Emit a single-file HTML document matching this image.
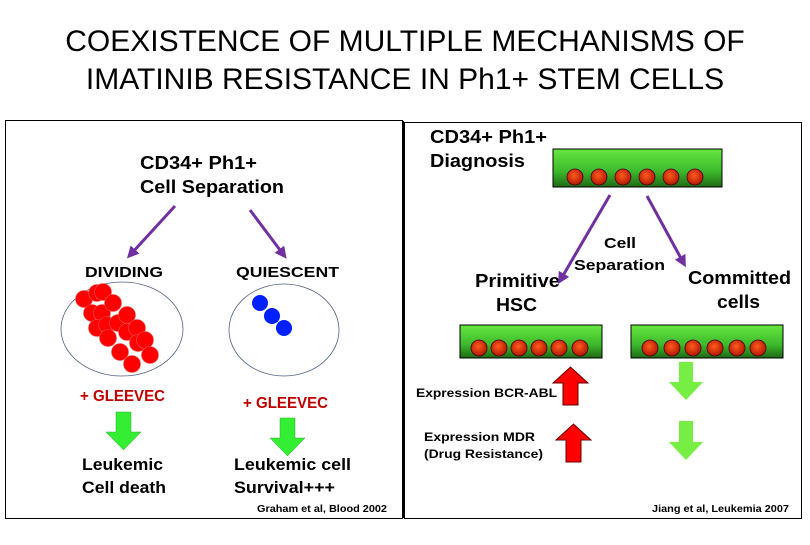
<!DOCTYPE html>
<html><head><meta charset="utf-8"><style>
body{margin:0;width:810px;height:540px;background:#fff;overflow:hidden}
svg text{font-family:"Liberation Sans",sans-serif;font-weight:bold}
</style></head><body>
<svg width="810" height="540" viewBox="0 0 810 540">
<defs>
<linearGradient id="g" x1="0" y1="0" x2="0" y2="1"><stop offset="0" stop-color="#66e840"/><stop offset="0.6" stop-color="#3cb82c"/><stop offset="1" stop-color="#1f6a14"/></linearGradient>
<radialGradient id="c" cx="0.45" cy="0.4" r="0.6"><stop offset="0" stop-color="#ff5a20"/><stop offset="1" stop-color="#b01800"/></radialGradient>
<marker id="ah" markerWidth="4" markerHeight="4" refX="2" refY="2" orient="auto"><path d="M0,0L4,2L0,4z" fill="#7030a0"/></marker>
</defs>
<text x="405" y="51" font-size="30" text-anchor="middle" style="font-weight:normal">COEXISTENCE OF MULTIPLE MECHANISMS OF</text>
<text x="405" y="89" font-size="30" text-anchor="middle" style="font-weight:normal">IMATINIB RESISTANCE IN Ph1+ STEM CELLS</text>
<rect x="5.5" y="120.5" width="397" height="398" fill="none" stroke="#000" stroke-width="1"/>
<rect x="404.5" y="122.5" width="397" height="396" fill="none" stroke="#000" stroke-width="1"/>
<line x1="403" y1="121" x2="403" y2="518" stroke="#000" stroke-width="2"/>
<g lengthAdjust="spacingAndGlyphs">
<text x="140" y="169" font-size="18" textLength="117" lengthAdjust="spacingAndGlyphs">CD34+ Ph1+</text>
<text x="140" y="193" font-size="18" textLength="144" lengthAdjust="spacingAndGlyphs">Cell Separation</text>
<text x="85" y="277" font-size="15" textLength="78" lengthAdjust="spacingAndGlyphs">DIVIDING</text>
<text x="236" y="277" font-size="15" textLength="103" lengthAdjust="spacingAndGlyphs">QUIESCENT</text>
<text x="80" y="401" font-size="16" fill="#c00000" textLength="85" lengthAdjust="spacingAndGlyphs">+ GLEEVEC</text>
<text x="243" y="408" font-size="16" fill="#c00000" textLength="85" lengthAdjust="spacingAndGlyphs">+ GLEEVEC</text>
<text x="82" y="470" font-size="17" textLength="81" lengthAdjust="spacingAndGlyphs">Leukemic</text>
<text x="82" y="493" font-size="17" textLength="84" lengthAdjust="spacingAndGlyphs">Cell death</text>
<text x="234" y="470" font-size="17" textLength="117" lengthAdjust="spacingAndGlyphs">Leukemic cell</text>
<text x="234" y="493" font-size="17" textLength="101" lengthAdjust="spacingAndGlyphs">Survival+++</text>
<text x="257" y="512" font-size="10" textLength="130" lengthAdjust="spacingAndGlyphs">Graham et al, Blood 2002</text>
<text x="430" y="143" font-size="18" textLength="117" lengthAdjust="spacingAndGlyphs">CD34+ Ph1+</text>
<text x="430" y="167" font-size="18" textLength="95" lengthAdjust="spacingAndGlyphs">Diagnosis</text>
<text x="604" y="248" font-size="15" textLength="32" lengthAdjust="spacingAndGlyphs">Cell</text>
<text x="574" y="270" font-size="15" textLength="91" lengthAdjust="spacingAndGlyphs">Separation</text>
<text x="475" y="287" font-size="18" textLength="85" lengthAdjust="spacingAndGlyphs">Primitive</text>
<text x="496" y="311" font-size="18" textLength="41" lengthAdjust="spacingAndGlyphs">HSC</text>
<text x="688" y="284" font-size="18" textLength="103" lengthAdjust="spacingAndGlyphs">Committed</text>
<text x="717" y="308" font-size="18" textLength="43" lengthAdjust="spacingAndGlyphs">cells</text>
<text x="416" y="397" font-size="12" textLength="141" lengthAdjust="spacingAndGlyphs">Expression BCR-ABL</text>
<text x="424" y="441" font-size="12" textLength="111" lengthAdjust="spacingAndGlyphs">Expression MDR</text>
<text x="424" y="458" font-size="12" textLength="119" lengthAdjust="spacingAndGlyphs">(Drug Resistance)</text>
<text x="652" y="512" font-size="10" textLength="137" lengthAdjust="spacingAndGlyphs">Jiang et al, Leukemia 2007</text>
</g>
<line x1="175" y1="206" x2="131" y2="254" stroke="#7030a0" stroke-width="3" marker-end="url(#ah)"/>
<line x1="250" y1="210" x2="283" y2="254" stroke="#7030a0" stroke-width="3" marker-end="url(#ah)"/>
<ellipse cx="122" cy="329" rx="61" ry="47" fill="none" stroke="#506080" stroke-width="0.8"/>
<ellipse cx="284" cy="330" rx="55" ry="46" fill="none" stroke="#506080" stroke-width="0.8"/>
<g fill="#f00" stroke="#e55" stroke-width="0.6">
<circle cx="84" cy="299" r="8.5"/><circle cx="97" cy="293" r="8.5"/><circle cx="103" cy="292" r="8.5"/>
<circle cx="92" cy="313" r="8.5"/><circle cx="102" cy="313" r="8.5"/><circle cx="113" cy="303" r="8.5"/>
<circle cx="97" cy="328" r="8.5"/><circle cx="107" cy="325" r="8.5"/><circle cx="118" cy="323" r="8.5"/><circle cx="127" cy="315" r="8.5"/>
<circle cx="108" cy="338" r="8.5"/><circle cx="127" cy="332" r="8.5"/><circle cx="137" cy="328" r="8.5"/>
<circle cx="120" cy="352" r="8.5"/><circle cx="138" cy="343" r="8.5"/><circle cx="145" cy="340" r="8.5"/>
<circle cx="132" cy="364" r="8.5"/><circle cx="150" cy="355" r="8.5"/>
</g>
<g fill="#0020ff"><circle cx="260" cy="303" r="8"/><circle cx="272" cy="316" r="8"/><circle cx="284" cy="328" r="8"/></g>
<path d="M116,412h15v20h10l-17.5,18l-17.5,-18h10z" fill="#33ee33" stroke="#3a3" stroke-width="0.5"/>
<path d="M280,418h15v20h10l-17.5,18l-17.5,-18h10z" fill="#33ee33" stroke="#3a3" stroke-width="0.5"/>
<rect x="553" y="149" width="169" height="38" fill="url(#g)" stroke="#000"/>
<g fill="url(#c)" stroke="#400" stroke-width="0.8">
<circle cx="575" cy="177" r="8"/><circle cx="599" cy="177" r="8"/><circle cx="623" cy="177" r="8"/><circle cx="647" cy="177" r="8"/><circle cx="671" cy="177" r="8"/><circle cx="695" cy="177" r="8"/>
</g>
<line x1="610" y1="195" x2="561" y2="279" stroke="#7030a0" stroke-width="3" marker-end="url(#ah)"/>
<line x1="647" y1="196" x2="683" y2="262" stroke="#7030a0" stroke-width="3" marker-end="url(#ah)"/>
<rect x="460" y="325" width="142" height="33" fill="url(#g)" stroke="#000"/>
<rect x="631" y="325" width="152" height="33" fill="url(#g)" stroke="#000"/>
<g fill="url(#c)" stroke="#400" stroke-width="0.8">
<circle cx="479" cy="348" r="8"/><circle cx="499" cy="348" r="8"/><circle cx="519" cy="348" r="8"/><circle cx="539" cy="348" r="8"/><circle cx="559" cy="348" r="8"/><circle cx="580" cy="348" r="8"/>
<circle cx="650" cy="348" r="8"/><circle cx="672" cy="348" r="8"/><circle cx="693" cy="348" r="8"/><circle cx="715" cy="348" r="8"/><circle cx="737" cy="348" r="8"/><circle cx="758" cy="348" r="8"/>
</g>
<path d="M563,405v-22h-10l17.5,-16l17.5,16h-10v22z" fill="#f00" stroke="#600" stroke-width="1"/>
<path d="M566,462v-22h-10l17.5,-16l17.5,16h-10v22z" fill="#f00" stroke="#600" stroke-width="1"/>
<path d="M679,362h14v20h10l-17,18l-17,-18h10z" fill="#77ee44"/>
<path d="M679,421h14v21h10l-17,18l-17,-18h10z" fill="#77ee44"/>
</svg>
</body></html>
